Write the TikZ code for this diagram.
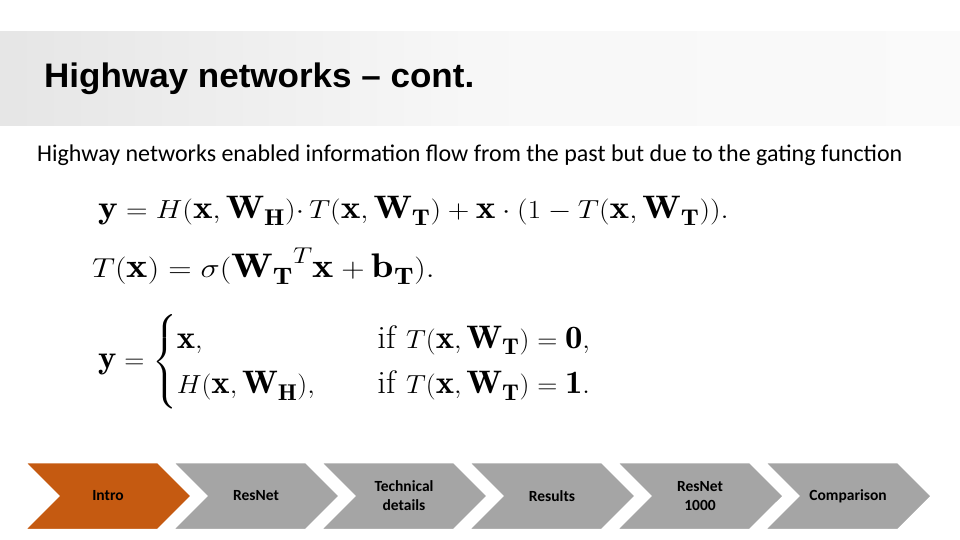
\documentclass[tikz,border=0pt]{standalone}
\usepackage{amsmath}
\usepackage{fontspec}
\newfontfamily\bodyfont{Carlito}
\newfontfamily\titlefont{Liberation Sans}
\usetikzlibrary{shapes.symbols}
\definecolor{orangec}{HTML}{C55A11}
\definecolor{grayc}{HTML}{A5A5A5}
\begin{document}
\begin{tikzpicture}[x=1pt,y=-1pt,
  chev/.style={signal, signal from=west, signal to=east, signal pointer angle=90,
    minimum width=168pt, minimum height=68pt, inner sep=0pt, fill=grayc, draw=white, line width=2.5pt,
    font=\bodyfont\bfseries\fontsize{15.5}{19}\selectfont, align=center, text=black},
  eq/.style={anchor=west, inner sep=0pt, font=\fontsize{31}{36}\selectfont}]
\useasboundingbox (0,0) rectangle (960,540);
\fill[white] (0,0) rectangle (960,540);
\shade[left color=black!10, right color=black!2, middle color=black!3] (0,32) rectangle (960,126);
\node[anchor=west, inner sep=0pt, font=\titlefont\bfseries\fontsize{34}{38}\selectfont] (title) at (44,79) {\scalebox{1.03}[1]{Highway networks – cont.}};
\node[anchor=west, inner sep=0pt, font=\bodyfont\fontsize{24}{27}\selectfont] (sub) at (37,155) {Highway networks enabled information flow from the past but due to the gating function};
\node[eq] (e1) at (98,211) {\scalebox{1.2}[1.05]{$\mathbf{y}=H(\mathbf{x},\mathbf{W_H}){\cdot}\,T(\mathbf{x},\mathbf{W_T})+\mathbf{x}\cdot(1-T(\mathbf{x},\mathbf{W_T})).$}};
\node[eq] (e2) at (92,266) {\scalebox{1.3}[1.1]{$T(\mathbf{x})=\sigma(\mathbf{W_T}^T\mathbf{x}+\mathbf{b_T}).$}};
\node[eq] (e3) at (98,362) {\scalebox{1.12}[1.05]{$\mathbf{y}=\begin{cases}\mathbf{x}, & \hspace{0.8em}\text{if } T(\mathbf{x},\mathbf{W_T})=\mathbf{0},\\ H(\mathbf{x},\mathbf{W_H}), & \hspace{0.8em}\text{if } T(\mathbf{x},\mathbf{W_T})=\mathbf{1}.\end{cases}$}};
\node[chev, fill=orangec] (c1) at (108,496) {Intro};
\node[chev] (c2) at (256,496) {ResNet};
\node[chev] (c3) at (404,496) {Technical\\details};
\node[chev] (c4) at (552,496) {Results};
\node[chev] (c5) at (700,496) {ResNet\\1000};
\node[chev] (c6) at (848,496) {Comparison};
\end{tikzpicture}
\end{document}
